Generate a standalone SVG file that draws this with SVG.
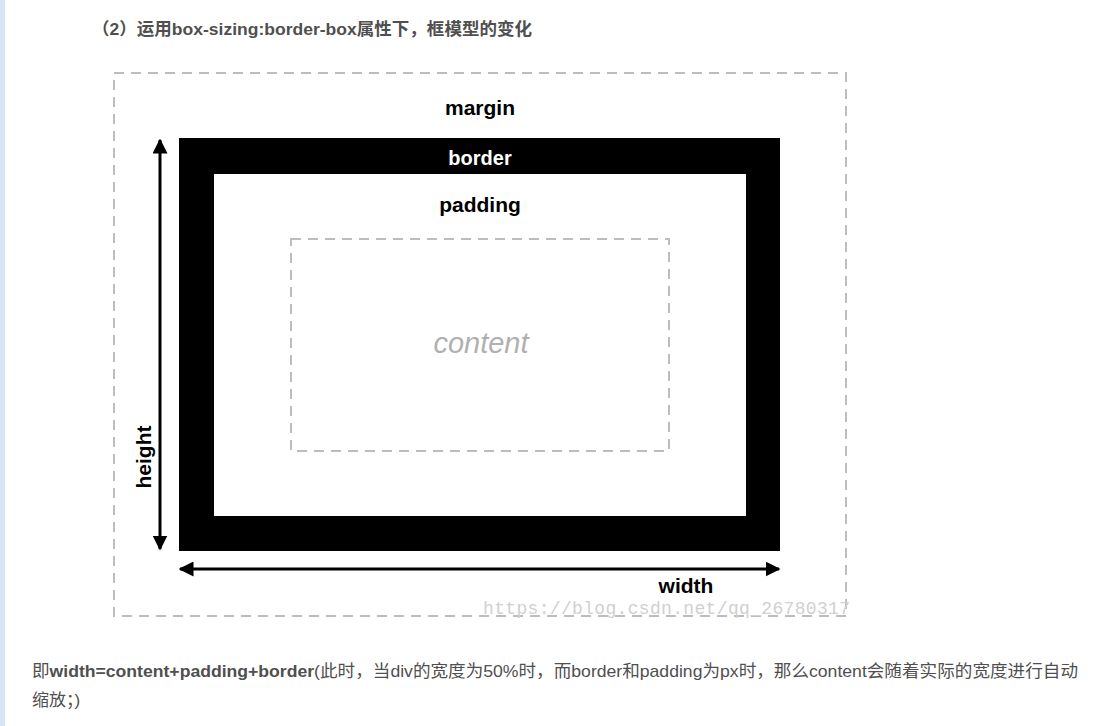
<svg xmlns="http://www.w3.org/2000/svg" width="1098" height="726" viewBox="0 0 1098 726">
<style>
.t{font-family:"Liberation Sans","Noto Sans CJK SC",sans-serif;fill:#4f4f4f;font-size:17px}
.lbl{font-family:"Liberation Sans",Arial,sans-serif;font-weight:bold;font-size:21px;text-anchor:middle;fill:#000}
.dash{fill:none;stroke:#bdbdbd;stroke-width:2;stroke-dasharray:10 7}
.arr{stroke:#000;stroke-width:3;fill:none}
</style>
<defs>
<marker id="ah" viewBox="0 0 10 10" refX="9" refY="5" markerWidth="5" markerHeight="5" markerUnits="strokeWidth" orient="auto-start-reverse">
<path d="M0,0 L10,5 L0,10 z" fill="#000"/>
</marker>
</defs>
<rect x="0" y="0" width="1098" height="726" fill="#fff"/>
<rect x="0" y="0" width="5" height="726" fill="#d5e5f5"/>
<text class="t" x="92" y="35" font-weight="bold" textLength="440" lengthAdjust="spacingAndGlyphs">（2）运用box-sizing:border-box属性下，框模型的变化</text>
<g id="margin">
<rect class="dash" x="114" y="73" width="732" height="543"/>
<text class="lbl" x="480" y="115">margin</text>
</g>
<g id="border">
<rect x="179" y="138" width="601" height="413" fill="#000"/>
<text class="lbl" x="480" y="165" style="fill:#fff;font-size:20px">border</text>
</g>
<g id="padding">
<rect x="214" y="174" width="532" height="342" fill="#fff"/>
<text class="lbl" x="480" y="212">padding</text>
</g>
<g id="content">
<rect class="dash" x="291" y="239" width="378" height="212"/>
<text x="481" y="353" text-anchor="middle" font-family="Liberation Sans,Arial,sans-serif" font-style="italic" font-size="29" fill="#b0b0b0">content</text>
</g>
<g id="connectors">
<line class="arr" x1="160" y1="549" x2="160" y2="140" marker-start="url(#ah)" marker-end="url(#ah)"/>
<line class="arr" x1="180" y1="569" x2="779" y2="569" marker-start="url(#ah)" marker-end="url(#ah)"/>
</g>
<g id="height-label">
<text class="lbl" transform="translate(151,457) rotate(-90)">height</text>
</g>
<g id="width-label">
<text class="lbl" x="686" y="593">width</text>
</g>
<text x="483" y="614" font-family="Liberation Mono,monospace" font-size="18" fill="#d0d0d0" textLength="367">https://blog.csdn.net/qq_26780317</text>
<text class="t" x="32" y="677" textLength="1046" lengthAdjust="spacingAndGlyphs">即<tspan font-weight="bold">width=content+padding+border</tspan>(此时，当div的宽度为50%时，而border和padding为px时，那么content会随着实际的宽度进行自动</text>
<text class="t" x="32" y="706">缩放；)</text>
</svg>
